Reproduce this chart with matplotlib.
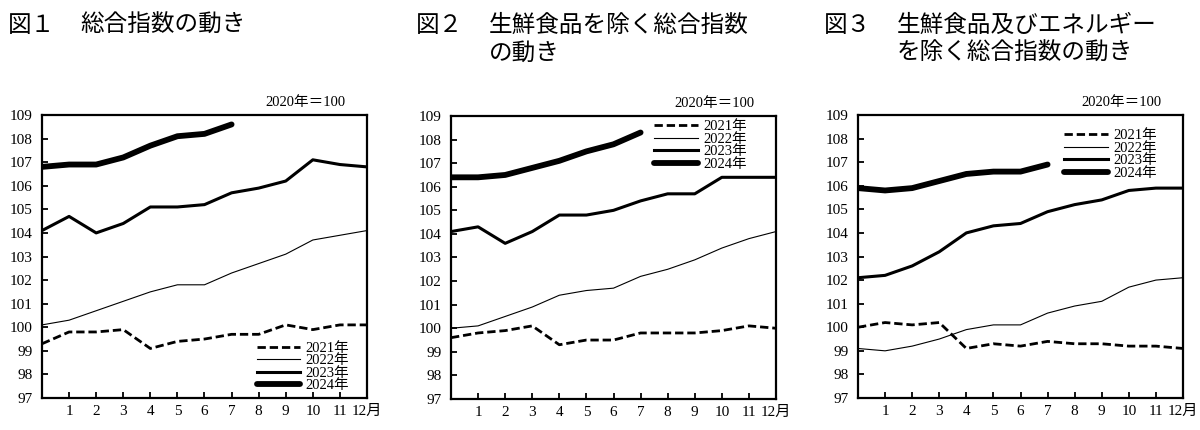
import numpy as np
import matplotlib
matplotlib.use('Agg')
import matplotlib.pyplot as plt

plt.rcParams['font.family'] = ['Liberation Serif', 'Noto Sans CJK JP']

# 月（0 = 前年12月）
months = list(range(13))
years = ['2021年', '2022年', '2023年', '2024年']

# 図1 総合指数
f1_2021 = [99.3, 99.8, 99.8, 99.9, 99.1, 99.4, 99.5, 99.7, 99.7, 100.1, 99.9, 100.1, 100.1]
f1_2022 = [100.1, 100.3, 100.7, 101.1, 101.5, 101.8, 101.8, 102.3, 102.7, 103.1, 103.7, 103.9, 104.1]
f1_2023 = [104.1, 104.7, 104.0, 104.4, 105.1, 105.1, 105.2, 105.7, 105.9, 106.2, 107.1, 106.9, 106.8]
f1_2024 = [106.8, 106.9, 106.9, 107.2, 107.7, 108.1, 108.2, 108.6]

# 図2 生鮮食品を除く総合指数
f2_2021 = [99.6, 99.8, 99.9, 100.1, 99.3, 99.5, 99.5, 99.8, 99.8, 99.8, 99.9, 100.1, 100.0]
f2_2022 = [100.0, 100.1, 100.5, 100.9, 101.4, 101.6, 101.7, 102.2, 102.5, 102.9, 103.4, 103.8, 104.1]
f2_2023 = [104.1, 104.3, 103.6, 104.1, 104.8, 104.8, 105.0, 105.4, 105.7, 105.7, 106.4, 106.4, 106.4]
f2_2024 = [106.4, 106.4, 106.5, 106.8, 107.1, 107.5, 107.8, 108.3]

# 図3 生鮮食品及びエネルギーを除く総合指数
f3_2021 = [100.0, 100.2, 100.1, 100.2, 99.1, 99.3, 99.2, 99.4, 99.3, 99.3, 99.2, 99.2, 99.1]
f3_2022 = [99.1, 99.0, 99.2, 99.5, 99.9, 100.1, 100.1, 100.6, 100.9, 101.1, 101.7, 102.0, 102.1]
f3_2023 = [102.1, 102.2, 102.6, 103.2, 104.0, 104.3, 104.4, 104.9, 105.2, 105.4, 105.8, 105.9, 105.9]
f3_2024 = [105.9, 105.8, 105.9, 106.2, 106.5, 106.6, 106.6, 106.9]

xtick_labels = ['1', '2', '3', '4', '5', '6', '7', '8', '9', '10', '11', '12月']
yticks = list(range(97, 110))

fig = plt.figure(figsize=(12, 4.3), dpi=100)

# タイトル
tfont = dict(family=['Noto Sans CJK JP'], fontsize=17, va='center', ha='left')
fig.text(8/1200, 1-25/430, '図１', **tfont)
fig.text(80/1200, 1-25/430, '総合指数の動き', **tfont)
fig.text(416/1200, 1-25/430, '図２', **tfont)
fig.text(489/1200, 1-25/430, '生鮮食品を除く総合指数', **tfont)
fig.text(489/1200, 1-53/430, 'の動き', **tfont)
fig.text(824/1200, 1-25/430, '図３', **tfont)
fig.text(897/1200, 1-25/430, '生鮮食品及びエネルギー', **tfont)
fig.text(897/1200, 1-53/430, 'を除く総合指数の動き', **tfont)

panels = [
    ([f1_2021, f1_2022, f1_2023, f1_2024], 42, 398, ('lower right', (0.945, 0.02))),
    ([f2_2021, f2_2022, f2_2023, f2_2024], 451, 399, ('upper right', (0.91, 0.985))),
    ([f3_2021, f3_2022, f3_2023, f3_2024], 858, 398, ('upper right', (0.92, 0.95))),
]

styles = [
    dict(color='black', lw=2.0, ls=(0, (3.0, 1.4))),
    dict(color='black', lw=0.8, ls='-'),
    dict(color='black', lw=2.2, ls='-'),
    dict(color='black', lw=4.2, ls='-', solid_capstyle='round'),
]

for series, left, bottom, (loc, anchor) in panels:
    ax = fig.add_axes([left/1200, (430-bottom)/430, 325/1200, 283/430])
    for vals, lab, st in zip(series, years, styles):
        ax.plot(months[:len(vals)], vals, label=lab, **st)
    ax.set_xlim(0, 12)
    ax.set_ylim(97, 109)
    ax.set_xticks(range(1, 13))
    ax.set_xticklabels(xtick_labels)
    ax.set_yticks(yticks)
    ax.tick_params(direction='in', length=4, width=1.3, labelsize=11, pad=5)
    ax.tick_params(axis='y', pad=7)
    for sp in ax.spines.values():
        sp.set_linewidth(1.6)
    ax.text(0.935, 1.02, '2020年＝100', transform=ax.transAxes, ha='right',
            va='bottom', fontsize=10.5)
    leg = ax.legend(loc=loc, bbox_to_anchor=anchor, frameon=False, fontsize=10.5,
                    handlelength=3.0, labelspacing=-0.05, handletextpad=0.35,
                    borderpad=0, borderaxespad=0)

fig.savefig('out.png', dpi=100)
